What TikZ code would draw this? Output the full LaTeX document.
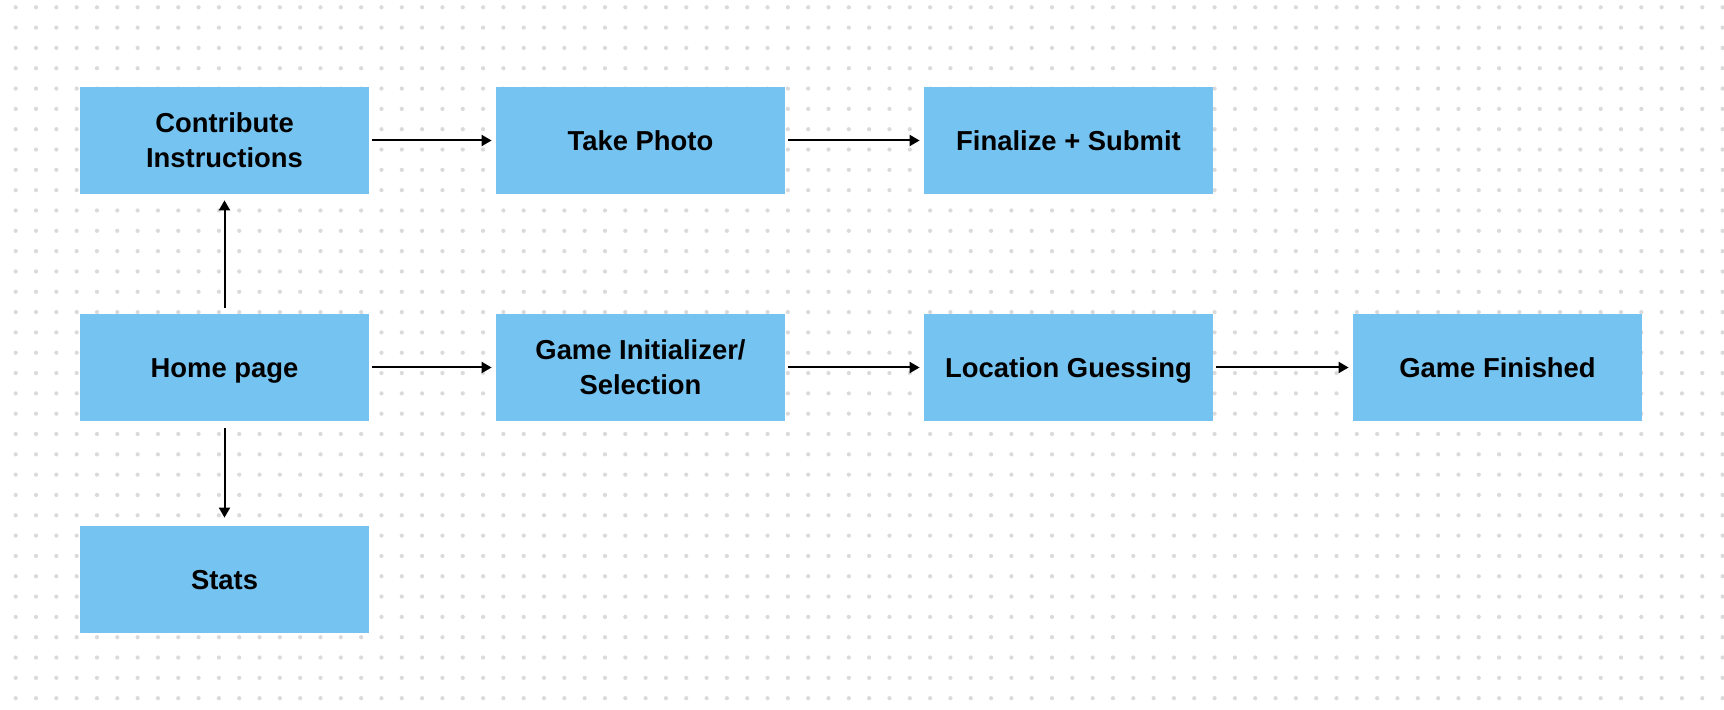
\documentclass[tikz,border=0pt]{standalone}
\usepackage{fontspec}
\setmainfont{Liberation Sans}
\usetikzlibrary{arrows.meta}
\definecolor{boxblue}{HTML}{75C3F0}
\definecolor{dotgray}{HTML}{DADADA}
\tikzset{
    screen/.style={fill=boxblue, minimum width=144.5pt, minimum height=53.5pt,
        align=center, font=\fontsize{13.7}{17.5}\selectfont\bfseries, inner sep=0pt},
    oneline/.style={text height=12pt, text depth=2.4pt},
    flow/.style={line width=1pt, -{Triangle[length=5pt,width=5.5pt]}}
}
\begin{document}
\begin{tikzpicture}[x=0.5pt,y=-0.5pt]
        \useasboundingbox (0,0) rectangle (1724,710);
        \fill[white] (0,0) rectangle (1724,710);
        % dot grid
        \foreach \i in {0,...,84}
            \foreach \j in {0,...,34}
                \fill[dotgray] (15.7+20.32*\i,7.3+20.32*\j) circle (2.1);
        % screens
        \node[screen] (contrib) at (224.5,140.5) {Contribute\\Instructions};
        \node[screen, oneline] (photo) at (640.5,140.5) {Take Photo};
        \node[screen, oneline] (submit) at (1068.5,140.5) {Finalize + Submit};
        \node[screen, oneline] (home) at (224.5,367.5) {Home page};
        \node[screen] (init) at (640.5,367.5) {Game Initializer/\\Selection};
        \node[screen, oneline] (guess) at (1068.5,367.5) {Location Guessing};
        \node[screen, oneline] (done) at (1497.5,367.5) {Game Finished};
        \node[screen, oneline] (stats) at (224.5,579.5) {Stats};
        % arrows
        \draw[flow, shorten <=1.5pt, shorten >=2pt] (contrib) -- (photo);
        \draw[flow, shorten <=1.5pt, shorten >=2pt] (photo) -- (submit);
        \draw[flow, shorten <=1.5pt, shorten >=2pt] (home) -- (init);
        \draw[flow, shorten <=1.5pt, shorten >=2pt] (init) -- (guess);
        \draw[flow, shorten <=1.5pt, shorten >=2pt] (guess) -- (done);
        \draw[flow, shorten <=3pt, shorten >=3pt] (home) -- (contrib);
        \draw[flow, shorten <=3.5pt, shorten >=4pt] (home) -- (stats);
    \end{tikzpicture}
\end{document}
